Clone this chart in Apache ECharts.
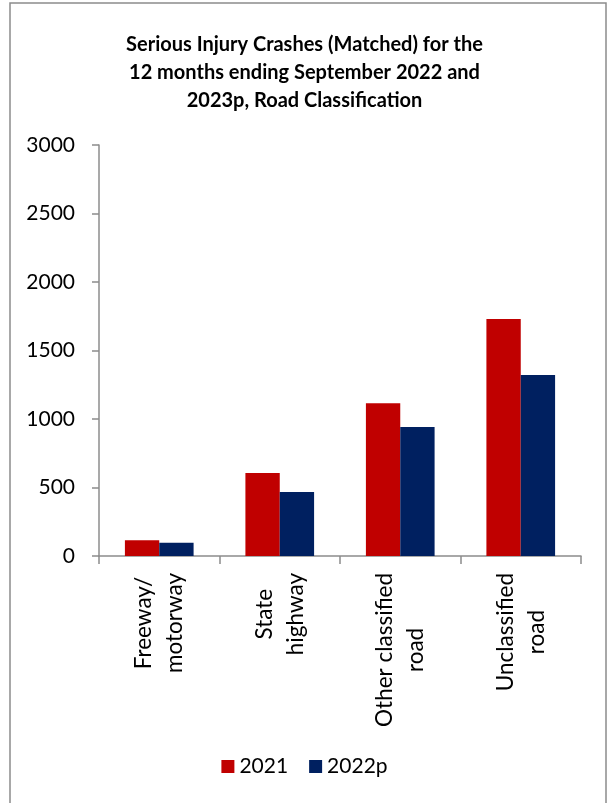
<!DOCTYPE html>
<html>
<head>
<meta charset="utf-8">
<script src="https://cdn.jsdelivr.net/npm/echarts@6/dist/echarts.min.js"></script>
<style>
html,body{margin:0;padding:0;background:#fff;}
#chart{width:609px;height:803px;}
</style>
</head>
<body>
<div id="chart"></div>
<script>
const categories = ['Freeway/\nmotorway', 'State\nhighway', 'Other classified\nroad', 'Unclassified\nroad'];
const seriesNames = ['2021', '2022p'];
const values2021 = [115, 606, 1115, 1730];
const values2022p = [97, 467, 942, 1321];
const yTicks = [0, 500, 1000, 1500, 2000, 2500, 3000];
const titleText = 'Serious Injury Crashes (Matched) for the\n12 months ending September 2022 and\n2023p, Road Classification';

const FONT = 'Lato';
const chart = echarts.init(document.getElementById('chart'), null, {renderer: 'canvas'});
chart.setOption({
  backgroundColor: '#fff',
  animation: false,
  title: {
    text: titleText,
    left: 'center',
    top: 26,
    textStyle: {fontFamily: FONT, fontWeight: 'bold', fontSize: 20, lineHeight: 28, color: '#000'}
  },
  graphic: [{
    type: 'rect',
    shape: {x: 10, y: 3, width: 596, height: 806},
    style: {fill: 'none', stroke: '#8c8c8c', lineWidth: 1.5},
    silent: true
  }],
  legend: {
    data: seriesNames,
    bottom: 21,
    left: 'center',
    icon: 'rect',
    itemWidth: 13,
    itemHeight: 13,
    itemGap: 21,
    textStyle: {fontFamily: FONT, fontSize: 21, color: '#000'}
  },
  grid: {left: 99, right: 28, top: 145, bottom: 247, containLabel: false},
  xAxis: {
    type: 'category',
    data: categories,
    axisLine: {lineStyle: {color: '#8c8c8c', width: 1.5}},
    axisTick: {show: true, length: 8, alignWithLabel: false, lineStyle: {color: '#8c8c8c', width: 1.5}},
    axisLabel: {
      rotate: 90,
      margin: 17,
      interval: 0,
      formatter: function (v) { return v.split('\n').map(s => '{c|' + s + '}').join('\n'); },
      rich: {c: {align: 'center', fontFamily: FONT, fontSize: 22.5, lineHeight: 31, color: '#000'}},
      fontFamily: FONT, fontSize: 22.5, lineHeight: 31, color: '#000'
    }
  },
  yAxis: {
    type: 'value',
    min: 0,
    max: 3000,
    interval: 500,
    axisLine: {show: true, lineStyle: {color: '#8c8c8c', width: 1.5}},
    axisTick: {show: true, length: 7, lineStyle: {color: '#8c8c8c', width: 1.5}},
    splitLine: {show: false},
    axisLabel: {
      margin: 24,
      fontFamily: FONT, fontSize: 21, color: '#000',
      formatter: function (v) { return yTicks.indexOf(v) >= 0 ? String(v) : ''; }
    }
  },
  series: [
    {name: seriesNames[0], type: 'bar', data: values2021, barGap: '0%', barCategoryGap: '43%', itemStyle: {color: '#C00000'}},
    {name: seriesNames[1], type: 'bar', data: values2022p, barGap: '0%', barCategoryGap: '43%', itemStyle: {color: '#002060'}}
  ]
});
</script>
</body>
</html>
